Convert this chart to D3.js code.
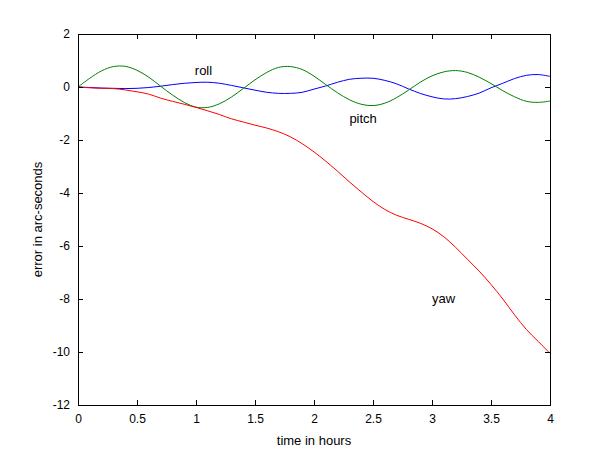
<!DOCTYPE html>
<html><head><meta charset="utf-8">
<script src="https://cdn.jsdelivr.net/npm/d3@7"></script>
<style>body{margin:0;background:#fff}svg{display:block}text{font-family:Arial,"Liberation Sans",Helvetica,sans-serif}</style>
</head><body><svg id="c" width="600" height="450"></svg>
<script>
const time = [0,0.1,0.2,0.3,0.4,0.5,0.6,0.7,0.8,0.9,1.0,1.1,1.2,1.3,1.4,1.5,1.6,1.7,1.8,1.9,2.0,2.1,2.2,2.3,2.4,2.5,2.6,2.7,2.8,2.9,3.0,3.1,3.2,3.3,3.4,3.5,3.6,3.7,3.8,3.9,4.0];
const roll = [0,-0.02,-0.04,-0.05,-0.06,-0.05,-0.02,0.03,0.09,0.14,0.17,0.18,0.14,0.06,-0.03,-0.12,-0.2,-0.24,-0.24,-0.2,-0.08,0.04,0.18,0.29,0.33,0.33,0.25,0.12,-0.07,-0.24,-0.37,-0.45,-0.44,-0.36,-0.23,-0.03,0.14,0.32,0.44,0.47,0.40];
const pitch = [0,0.33,0.61,0.77,0.78,0.63,0.37,0.03,-0.3,-0.58,-0.76,-0.77,-0.63,-0.38,-0.06,0.27,0.55,0.74,0.77,0.66,0.41,0.09,-0.22,-0.48,-0.65,-0.70,-0.61,-0.40,-0.12,0.18,0.42,0.57,0.62,0.55,0.37,0.13,-0.14,-0.37,-0.54,-0.58,-0.53];
const yaw = [0,-0.03,-0.05,-0.06,-0.11,-0.18,-0.27,-0.42,-0.54,-0.65,-0.77,-0.9,-1.04,-1.2,-1.32,-1.44,-1.55,-1.69,-1.88,-2.14,-2.45,-2.8,-3.18,-3.58,-3.96,-4.32,-4.62,-4.84,-4.99,-5.14,-5.35,-5.65,-6.05,-6.5,-6.95,-7.45,-8.0,-8.6,-9.15,-9.6,-10.05];
const xTicks = [0,0.5,1,1.5,2,2.5,3,3.5,4];
const yTicks = [2,0,-2,-4,-6,-8,-10,-12];
const seriesNames = ["roll","pitch","yaw"];
const seriesColors = ["#0000ff","#008000","#ff0000"];
const labelPos = [[0.99,0.45],[2.3,-1.36],[3.0,-8.15]];

const svg = d3.select("#c");
const L=78,R=550,T=34,B=405;
const x = d3.scaleLinear().domain([0,4]).range([L,R]);
const y = d3.scaleLinear().domain([-12,2]).range([B,T]);

const line = d3.line().x((d,i)=>x(time[i])).y(d=>y(d)).curve(d3.curveCatmullRom);
const data=[roll,pitch,yaw];
data.forEach((s,k)=>{
  svg.append("path").attr("d",line(s)).attr("fill","none").attr("stroke",seriesColors[k]).attr("stroke-width",1);
});

function styleAxis(g){g.select(".domain").remove();g.selectAll("line").attr("stroke","#000");g.selectAll("text").attr("font-size",12).attr("fill","#000");}
svg.append("g").attr("transform",`translate(0,${B})`).call(d3.axisBottom(x).tickValues(xTicks).tickSize(-5).tickPadding(9).tickFormat(d3.format("~g"))).call(styleAxis);
svg.append("g").attr("transform",`translate(0,${T})`).call(d3.axisTop(x).tickValues(xTicks).tickSize(-5).tickFormat("")).call(styleAxis);
svg.append("g").attr("transform",`translate(${L},0)`).call(d3.axisLeft(y).tickValues(yTicks).tickSize(-5).tickPadding(8).tickFormat(d=>d<0?"-"+Math.abs(d):d)).call(styleAxis);
svg.append("g").attr("transform",`translate(${R},0)`).call(d3.axisRight(y).tickValues(yTicks).tickSize(-5).tickFormat("")).call(styleAxis);
svg.append("rect").attr("x",L+0.5).attr("y",T+0.5).attr("width",R-L).attr("height",B-T).attr("fill","none").attr("stroke","#000");

seriesNames.forEach((n,k)=>{
  svg.append("text").attr("x",x(labelPos[k][0])).attr("y",y(labelPos[k][1])).attr("font-size",13).text(n);
});
svg.append("text").attr("x",(L+R)/2).attr("y",445).attr("text-anchor","middle").attr("font-size",13).text("time in hours");
svg.append("text").attr("transform",`translate(42,${(T+B)/2}) rotate(-90)`).attr("text-anchor","middle").attr("font-size",13).text("error in arc-seconds");
</script></body></html>
